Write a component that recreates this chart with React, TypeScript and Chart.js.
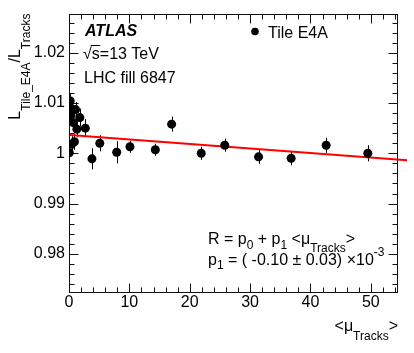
import React, { useEffect, useRef } from "react";
import { Chart, registerables } from "chart.js";
Chart.register(...registerables);

// ---- data ----
const muValues = [0.2, 0.1, 1.1, 0.33, 1.8, 0.7, 1.3, 2.7, 0.9, 0.45, 0.05, 3.8, 5.1, 7.9, 10.1, 14.3, 17.0, 21.9, 25.8, 31.4, 36.8, 42.6, 49.5];
const ratioValues = [1.0104, 1.0093, 1.0087, 1.0075, 1.0071, 1.0061, 1.0048, 1.005, 1.0023, 1.0018, 1.0001, 0.9989, 1.002, 1.0002, 1.0013, 1.0007, 1.0058, 1.0, 1.0016, 0.9993, 0.999, 1.0016, 1.0];
const ratioErrors = [0.0015, 0.0015, 0.0015, 0.0015, 0.0018, 0.0016, 0.0016, 0.0018, 0.0016, 0.0016, 0.0016, 0.0021, 0.0016, 0.0022, 0.0012, 0.0012, 0.0015, 0.0013, 0.0013, 0.0014, 0.0014, 0.0015, 0.0016];
const fitMu = [0.15, 56];
const fitRatio = [1.00364, 0.9986];
const xTicks = [0, 10, 20, 30, 40, 50];
const xTickLabels = ["0", "10", "20", "30", "40", "50"];
const yTicks = [0.98, 0.99, 1.0, 1.01, 1.02];
const yTickLabels = ["0.98", "0.99", "1", "1.01", "1.02"];
const xRange = [0, 54.5];
const yRange = [0.9722, 1.0278];
const legendLabel = "Tile E4A";
const infoLines = ["ATLAS", "s=13 TeV", "LHC fill 6847"];

const FONT = '"Liberation Sans", Arial, Helvetica, sans-serif';

type Run = { t: string; size: number; dy?: number; style?: string };

function runsWidth(ctx: CanvasRenderingContext2D, runs: Run[]) {
  let w = 0;
  for (const r of runs) {
    ctx.font = `${r.style || ""} ${r.size}px ${FONT}`;
    w += ctx.measureText(r.t).width;
  }
  return w;
}

function drawRuns(ctx: CanvasRenderingContext2D, x: number, y: number, runs: Run[]) {
  let cx = x;
  for (const r of runs) {
    ctx.font = `${r.style || ""} ${r.size}px ${FONT}`;
    ctx.fillText(r.t, cx, y + (r.dy || 0));
    cx += ctx.measureText(r.t).width;
  }
  return cx;
}

const framePlugin = {
  id: "rootFrame",
  beforeDatasetsDraw(chart: any) {
    const { ctx, chartArea, scales } = chart;
    const xs = scales.x;
    const ys = scales.y;
    const L = Math.round(chartArea.left) + 0.5;
    const R = Math.round(chartArea.right) - 0.5;
    const T = Math.round(chartArea.top) + 0.5;
    const B = Math.round(chartArea.bottom) - 0.5;
    ctx.save();
    ctx.strokeStyle = "#111";
    ctx.lineWidth = 1;
    ctx.strokeRect(L, T, R - L, B - T);
    ctx.beginPath();
    for (let k = 0; k <= 54; k += 2) {
      const px = Math.round(xs.getPixelForValue(k)) + 0.5;
      const len = k % 10 === 0 ? 9 : 5;
      ctx.moveTo(px, B);
      ctx.lineTo(px, B - len);
      ctx.moveTo(px, T);
      ctx.lineTo(px, T + len);
    }
    for (let k = 974; k <= 1026; k += 2) {
      const py = Math.round(ys.getPixelForValue(k / 1000)) + 0.5;
      const len = k % 10 === 0 ? 9 : 5;
      ctx.moveTo(L, py);
      ctx.lineTo(L + len, py);
      ctx.moveTo(R, py);
      ctx.lineTo(R - len, py);
    }
    ctx.stroke();

    // error bars
    ctx.strokeStyle = "#000";
    ctx.beginPath();
    for (let i = 0; i < muValues.length; i++) {
      const px = Math.round(xs.getPixelForValue(muValues[i])) + 0.5;
      ctx.moveTo(px, ys.getPixelForValue(ratioValues[i] - ratioErrors[i]));
      ctx.lineTo(px, ys.getPixelForValue(ratioValues[i] + ratioErrors[i]));
    }
    ctx.stroke();
    ctx.restore();
  },
};

const textPlugin = {
  id: "rootText",
  afterDraw(chart: any) {
    const { ctx, chartArea } = chart;
    ctx.save();
    ctx.fillStyle = "#000";
    ctx.textBaseline = "alphabetic";
    ctx.textAlign = "left";

    // ATLAS block
    drawRuns(ctx, 85, 36, [{ t: infoLines[0], size: 16, style: "italic bold" }]);
    ctx.font = `16px ${FONT}`;
    const sqrtX = 83;
    ctx.fillText("\u221A", sqrtX, 58.5);
    const wSqrt = ctx.measureText("\u221A").width;
    const wS = ctx.measureText("s").width;
    ctx.fillText(infoLines[1], sqrtX + wSqrt, 58.5);
    ctx.beginPath();
    ctx.lineWidth = 1;
    ctx.strokeStyle = "#000";
    ctx.moveTo(sqrtX + wSqrt - 1, 45.5);
    ctx.lineTo(sqrtX + wSqrt + wS + 0.5, 45.5);
    ctx.stroke();
    ctx.fillText(infoLines[2], 84, 83);

    // legend
    ctx.beginPath();
    ctx.arc(255, 31.5, 3.8, 0, Math.PI * 2);
    ctx.fill();
    drawRuns(ctx, 268, 37.5, [{ t: legendLabel, size: 16 }]);

    // fit formula
    drawRuns(ctx, 208, 244, [
      { t: "R = p", size: 16 },
      { t: "0", size: 12, dy: 5 },
      { t: " + p", size: 16 },
      { t: "1", size: 12, dy: 5 },
      { t: " <\u03BC", size: 16 },
      { t: "Tracks", size: 12, dy: 8 },
      { t: ">", size: 16 },
    ]);
    drawRuns(ctx, 208, 265, [
      { t: "p", size: 16 },
      { t: "1", size: 12, dy: 4 },
      { t: " = ( -0.10 \u00B1 0.03) \u00D710", size: 16 },
      { t: "-3", size: 12, dy: -9 },
    ]);

    // x title, right aligned to frame
    const xt: Run[] = [
      { t: "<\u03BC", size: 16 },
      { t: "Tracks", size: 12, dy: 9 },
      { t: ">", size: 16 },
    ];
    const xw = runsWidth(ctx, xt);
    drawRuns(ctx, chartArea.right - xw, 331, xt);

    // y title, rotated, right aligned to top of frame
    const yt: Run[] = [
      { t: "L", size: 16 },
      { t: "Tile_E4A", size: 12, dy: 10 },
      { t: "/", size: 16 },
      { t: "L", size: 16 },
      { t: "Tracks", size: 12, dy: 10 },
    ];
    const yw = runsWidth(ctx, yt);
    ctx.translate(20, chartArea.top + yw);
    ctx.rotate(-Math.PI / 2);
    drawRuns(ctx, 0, 0, yt);
    ctx.restore();
  },
};

export default function App() {
  const ref = useRef<HTMLCanvasElement | null>(null);
  useEffect(() => {
    document.body.style.margin = "0";
    const canvas = ref.current;
    if (!canvas) return;
    const points = muValues.map((m, i) => ({ x: m, y: ratioValues[i] }));
    const fit = fitMu.map((m, i) => ({ x: m, y: fitRatio[i] }));
    const chart = new Chart(canvas, {
      type: "scatter",
      data: {
        datasets: [
          {
            type: "line",
            label: "fit",
            data: fit,
            borderColor: "#ff0000",
            borderWidth: 2,
            pointRadius: 0,
            showLine: true,
            fill: false,
            clip: 12,
            order: 2,
          } as any,
          {
            label: legendLabel,
            data: points,
            backgroundColor: "#000",
            borderColor: "#000",
            borderWidth: 0,
            pointRadius: 4.5,
            order: 1,
          },
        ],
      },
      options: {
        responsive: false,
        animation: false,
        devicePixelRatio: 1,
        layout: { padding: { top: 13, right: 16, left: 0, bottom: 0 } },
        plugins: { legend: { display: false }, tooltip: { enabled: false } },
        scales: {
          x: {
            type: "linear",
            min: xRange[0],
            max: xRange[1],
            grid: { display: false, drawTicks: false },
            border: { display: false },
            afterBuildTicks: (s: any) => {
              s.ticks = xTicks.map((v) => ({ value: v }));
            },
            afterFit: (s: any) => {
              s.height = 60;
            },
            ticks: {
              autoSkip: false,
              maxRotation: 0,
              padding: 0,
              color: "#000",
              font: { family: FONT, size: 16 },
              callback: (v: any) => xTickLabels[xTicks.indexOf(Number(v))] ?? "",
            },
          },
          y: {
            type: "linear",
            min: yRange[0],
            max: yRange[1],
            grid: { display: false, drawTicks: false },
            border: { display: false },
            afterBuildTicks: (s: any) => {
              s.ticks = yTicks.map((v) => ({ value: v }));
            },
            afterFit: (s: any) => {
              s.width = 69;
            },
            ticks: {
              autoSkip: false,
              padding: 4,
              color: "#000",
              font: { family: FONT, size: 16 },
              callback: (v: any) => {
                const i = yTicks.findIndex((t) => Math.abs(t - Number(v)) < 1e-9);
                return i >= 0 ? yTickLabels[i] : "";
              },
            },
          },
        },
      },
      plugins: [framePlugin, textPlugin],
    });
    return () => chart.destroy();
  }, []);
  return (
    <div style={{ position: "fixed", left: 0, top: 0, width: 414, height: 353, background: "#fff" }}>
      <canvas ref={ref} width={414} height={353} style={{ display: "block", width: 414, height: 353 }} />
    </div>
  );
}
